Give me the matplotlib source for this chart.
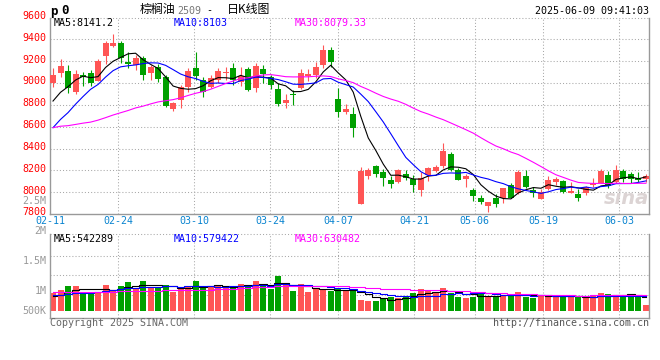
import numpy as np
import pandas as pd
import matplotlib
matplotlib.use('Agg')
import matplotlib.pyplot as plt
from matplotlib.transforms import blended_transform_factory as btf

# ---------------- data ----------------
date_labels = ['02-11', '02-24', '03-10', '03-24', '04-07', '04-21', '05-06', '05-19', '06-03']
date_index = [0, 9, 19, 29, 38, 48, 56, 65, 75]

open_ = [9003, 9095, 9110, 8921, 9073, 9089, 9022, 9250, 9339, 9370,
         9192, 9165, 9226, 9089, 9150, 9052, 8762, 8844, 8966, 9134,
         9027, 8966, 9027, 9089, 9134, 9012, 9128, 8957, 9128, 9052,
         8945, 8814, 8896, 8957, 9067, 9073, 9165, 9302, 8853, 8737,
         8716, 7891, 8148, 8240, 8188, 8111, 8096, 8163, 8120, 8020,
         8157, 8194, 8240, 8347, 8203, 8117, 8020, 7949, 7873, 7949,
         7943, 8065, 7989, 8148, 8020, 7937, 8026, 8096, 8102, 7995,
         7983, 7989, 8065, 8087, 8157, 8096, 8194, 8163, 8127, 8120]
high = [9140, 9217, 9165, 9119, 9104, 9119, 9217, 9385, 9449, 9388,
        9287, 9257, 9247, 9165, 9171, 9073, 8823, 8982, 9134, 9287,
        9058, 9073, 9140, 9150, 9180, 9150, 9150, 9180, 9165, 9073,
        8997, 8896, 8936, 9128, 9128, 9195, 9348, 9327, 8951, 8805,
        8777, 8233, 8218, 8249, 8212, 8151, 8212, 8203, 8157, 8188,
        8233, 8249, 8453, 8371, 8224, 8163, 8041, 7974, 7913, 7983,
        8041, 8087, 8203, 8203, 8050, 8029, 8148, 8142, 8111, 8096,
        8029, 8059, 8127, 8212, 8194, 8249, 8212, 8182, 8188, 8163]
low = [8966, 9058, 8911, 8896, 8973, 8973, 9018, 9171, 9333, 9180,
       9134, 9119, 9027, 9027, 9012, 8783, 8743, 8768, 8921, 9027,
       8875, 8951, 9003, 9027, 8982, 8976, 8927, 8921, 8997, 8945,
       8792, 8774, 8798, 8945, 9021, 9043, 9134, 9144, 8692, 8713,
       8508, 7891, 8120, 8142, 8059, 8041, 8081, 8111, 7998, 7968,
       8102, 8182, 8224, 8194, 8111, 8050, 7919, 7888, 7815, 7867,
       7897, 7943, 7980, 8035, 7959, 7937, 8020, 8065, 7989, 7989,
       7919, 7974, 8050, 8081, 8041, 8087, 8096, 8081, 8096, 8096]
close = [9073, 9156, 8951, 9079, 9055, 9003, 9205, 9370, 9363, 9226,
         9174, 9232, 9073, 9150, 9037, 8789, 8814, 8966, 9110, 9064,
         8921, 9043, 9110, 9104, 9027, 9067, 8936, 9156, 9082, 8982,
         8808, 8844, 8887, 9089, 9079, 9150, 9302, 9195, 8737, 8762,
         8585, 8197, 8203, 8166, 8133, 8075, 8203, 8127, 8065, 8127,
         8218, 8233, 8377, 8203, 8111, 8148, 7965, 7913, 7907, 7888,
         8035, 7949, 8188, 8050, 7989, 8004, 8111, 8117, 8004, 8014,
         7949, 8044, 8081, 8197, 8059, 8203, 8120, 8120, 8111, 8151]
volume = [697, 827, 984, 984, 760, 760, 760, 1024, 827, 984,
          1142, 917, 1181, 957, 933, 1024, 760, 894, 984, 1181,
          933, 933, 1024, 933, 984, 1063, 1024, 1181, 1063, 854,
          1390, 1024, 787, 1063, 748, 854, 854, 799, 866, 799,
          799, 433, 394, 394, 461, 563, 524, 591, 720, 866,
          787, 697, 906, 720, 551, 512, 563, 697, 602, 591,
          618, 669, 748, 563, 512, 591, 630, 563, 563, 563,
          539, 524, 591, 720, 669, 630, 630, 602, 630, 222]
volume = [v * 1000 for v in volume]

# closes / volumes of the 29 sessions before the window (for the moving averages)
prior_close = [8760, 8800, 8740, 8700, 8720, 8660, 8690, 8640, 8600,
               8560, 8520, 8580, 8540, 8490, 8460, 8510, 8480, 8450, 8470, 8450,
               8400, 8330, 8310, 8350, 8345,
               8756, 8696, 8774, 8876]
prior_volume = [880, 820, 900, 850, 790, 810, 870, 840, 800, 760,
                830, 850, 880, 820, 790, 860, 810, 840, 800, 820,
                700, 620, 660, 600, 650,
                560, 530, 590, 573]
prior_volume = [v * 1000 for v in prior_volume]

price_ticks = [9600, 9400, 9200, 9000, 8800, 8600, 8400, 8200, 8000, 7800]
vol_labels = ['2.5M', '2M', '1.5M', '1M', '500K']
vol_label_y = [200.7, 230.7, 261, 290.5, 311]

title_name = '棕榈油'
title_code = '2509'
title_tail = '日K线图'
stamp = '2025-06-09 09:41:03'
ma_price_text = ['MA5:8141.2', 'MA10:8103', 'MA30:8079.33']
ma_vol_text = ['MA5:542289', 'MA10:579422', 'MA30:630482']

# ---------------- derived ----------------
n = len(close)
x = np.arange(n)
cs = pd.Series(prior_close + close)
vs = pd.Series(prior_volume + volume)
k = len(prior_close)
ma_p = [cs.rolling(w).mean().iloc[k:].to_numpy() for w in (5, 10, 30)]
ma_v = [vs.rolling(w).mean().iloc[k:].to_numpy() for w in (5, 10, 30)]

RED = '#ff5555'
GREEN = '#00a000'
MA_COLORS = ['#000000', '#0000ff', '#ff00ff']
GRID = '#a8a8a8'
BORDER = '#999999'
MONO = 'DejaVu Sans Mono'
CJK = ['Noto Sans CJK SC', 'DejaVu Sans']
FS = 7.2

W, H = 660, 360
fig = plt.figure(figsize=(6.6, 3.6), dpi=100)
fig.patch.set_facecolor('white')


def fx(px):
    return px / W


def fy(py):
    return 1 - py / H


ax = fig.add_axes([fx(50), fy(214), 599 / W, (214 - 18.3) / H])
ax2 = fig.add_axes([fx(50), fy(318.3), 599 / W, (318.3 - 234) / H])

xlim = (-0.4, 79.4)
grid_x = [-0.4 + 1.0107 * i for i in date_index]

for a in (ax, ax2):
    a.set_xlim(*xlim)
    a.set_xticks([])
    a.set_yticks([])
    for s in ('left', 'right', 'bottom'):
        a.spines[s].set_color(BORDER)
        a.spines[s].set_linewidth(1.0)
    a.spines['top'].set_visible(False)
    a.plot([0, 1], [1, 1], transform=a.transAxes, color=GRID, lw=0.75,
           ls=(0, (1, 2)), clip_on=False, zorder=1)
    for gx in grid_x[1:]:
        a.axvline(gx, color=GRID, lw=0.75, ls=(0, (1, 2)), zorder=0.5)

# ---- price panel ----
ax.set_ylim(7800, 9593)
for t in price_ticks[1:-1]:
    ax.axhline(t, color=GRID, lw=0.75, ls=(0, (1, 2)), zorder=0.5)

ax.text(fx(626), fy(199), 'sina', transform=fig.transFigure, fontsize=14,
        style='italic', weight='bold', color='#dcd4d4', ha='center',
        va='center', zorder=0.6)

min_h = 9.0
for i in range(n):
    up = close[i] >= open_[i]
    col = RED if up else GREEN
    ax.vlines(x[i], low[i], high[i], color=col, lw=0.8, zorder=2)
    bot = min(open_[i], close[i])
    hgt = max(abs(close[i] - open_[i]), min_h)
    ax.bar(x[i], hgt, bottom=bot, width=0.8, color=col, linewidth=0, zorder=3)

for m, c in zip(ma_p, MA_COLORS):
    ax.plot(x, m, color=c, lw=0.8, zorder=4)

# ---- volume panel ----
ax2.set_ylim(-0.287e6, 3.031e6)
for f in (0.7426, 0.510, 0.2764):
    ax2.plot([0, 1], [f, f], transform=ax2.transAxes, color=GRID, lw=0.75,
             ls=(0, (1, 2)), zorder=0.5)
vcols = [RED if close[i] >= open_[i] else GREEN for i in range(n)]
ax2.bar(x, volume, width=0.8, color=vcols, linewidth=0, zorder=2)
for m, c in zip(ma_v, MA_COLORS):
    ax2.plot(x, m, color=c, lw=0.8, drawstyle='steps-mid', zorder=3)

# ---- texts ----
ytr = btf(fig.transFigure, ax.transData)
for t in price_ticks:
    ax.text(fx(46.5), t + 15, str(t), transform=ytr, ha='right', va='center',
            color='#ff0000', fontsize=FS, family=MONO, clip_on=False)

for lab, py in zip(vol_labels, vol_label_y):
    fig.text(fx(46.5), fy(py), lab, ha='right', va='center', color='#999999',
             fontsize=FS, family=MONO)

xtr = btf(ax.transData, fig.transFigure)
for lab, gx in zip(date_labels, grid_x):
    ax.text(gx, fy(221.5), lab, transform=xtr, ha='center', va='center',
            color='#0a84d0', fontsize=FS, family=MONO, clip_on=False)

fig.text(fx(50), fy(11), 'p', fontsize=9, weight='bold', family=MONO,
         va='center', ha='left')
fig.text(fx(61.5), fy(11), '0', fontsize=9, weight='bold', family=MONO,
         va='center', ha='left')
fig.text(fx(139.5), fy(9.5), title_name, fontsize=8.6, family=CJK,
         va='center', ha='left')
fig.text(fx(177), fy(10.5), title_code, fontsize=FS, family=MONO,
         va='center', ha='left', color='#777777')
fig.text(fx(206), fy(10.5), '-', fontsize=FS, family=MONO,
         va='center', ha='left')
fig.text(fx(226.5), fy(9.5), title_tail, fontsize=8.6, family=CJK,
         va='center', ha='left')
fig.text(fx(649), fy(11.5), stamp, fontsize=FS, family=MONO,
         va='center', ha='right')

for txt, px, c in zip(ma_price_text, (54, 174, 295), MA_COLORS):
    fig.text(fx(px), fy(23.5), txt, fontsize=FS, family=MONO, color=c,
             va='center', ha='left')
for txt, px, c in zip(ma_vol_text, (54, 174, 295), MA_COLORS):
    fig.text(fx(px), fy(238.5), txt, fontsize=FS, family=MONO, color=c,
             va='center', ha='left')

fig.text(fx(49.5), fy(323.5), 'Copyright 2025 SINA.COM', fontsize=FS,
         family=MONO, color='#666666', va='center', ha='left')
fig.text(fx(649), fy(323.5), 'http://finance.sina.com.cn', fontsize=FS,
         family=MONO, color='#555555', va='center', ha='right')

fig.savefig('out.png', dpi=100, facecolor='white')
